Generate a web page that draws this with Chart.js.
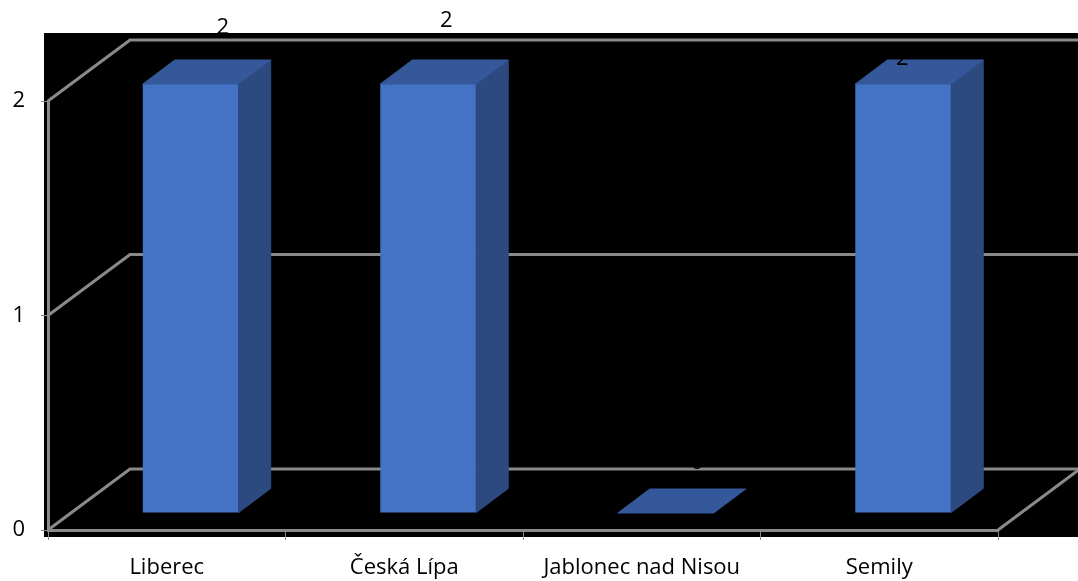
<!DOCTYPE html>
<html>
<head>
<meta charset="utf-8">
<script src="https://cdn.jsdelivr.net/npm/chart.js@4/dist/chart.umd.min.js"></script>
<style>
  html, body { margin: 0; padding: 0; background: #fff; overflow: hidden; }
  canvas { display: block; }
</style>
</head>
<body>
<canvas id="c" width="1078" height="581"></canvas>
<script>
const categories = ['Liberec', 'Česká Lípa', 'Jablonec nad Nisou', 'Semily'];
const counts = [2, 2, 0, 2];
const yTicks = [0, 1, 2];
// value label placement relative to the top of each bar, in px
const labelOffsets = [[56, -73], [42, -80], [55, -67], [23, -42]];

// 3D geometry: depth of the walls, where the bar fronts sit, and bar depth
const WALL = { dx: 82, dy: -61 };
const BAR_SHIFT = { dx: 24, dy: -17 };
const BAR_DEPTH = { dx: 32, dy: -24 };
const LINE = '#8a8a8a';
const FRONT = '#4472c4';
const TOP = '#35589a';
const SIDE = '#2c4a80';
const FONT = { family: "'Open Sans', 'DejaVu Sans', sans-serif", size: 22 };

function path(ctx, pts) {
  ctx.beginPath();
  ctx.moveTo(pts[0][0], pts[0][1]);
  for (let i = 1; i < pts.length; i++) ctx.lineTo(pts[i][0], pts[i][1]);
  ctx.closePath();
}

function polyline(ctx, pts) {
  ctx.beginPath();
  ctx.moveTo(pts[0][0], pts[0][1]);
  for (let i = 1; i < pts.length; i++) ctx.lineTo(pts[i][0], pts[i][1]);
}

const box3d = {
  id: 'box3d',
  beforeDraw(chart) {
    const { ctx, chartArea: a, scales: { y } } = chart;
    const top = y.getPixelForValue(yTicks[yTicks.length - 1]) + WALL.dy - 7;
    ctx.save();
    ctx.fillStyle = '#000';
    ctx.fillRect(a.left - 4, top, chart.width - (a.left - 4), a.bottom + 7 - top);
    ctx.restore();
  },
  beforeDatasetsDraw(chart) {
    const { ctx, chartArea: a, scales: { y } } = chart;
    ctx.save();
    ctx.strokeStyle = LINE;
    ctx.lineWidth = 3;
    ctx.lineJoin = 'miter';
    // side wall diagonals and back wall gridlines
    yTicks.forEach(v => {
      const py = y.getPixelForValue(v);
      polyline(ctx, [[a.left, py], [a.left + WALL.dx, py + WALL.dy], [a.right + WALL.dx, py + WALL.dy]]);
      ctx.stroke();
    });
    // right edge of the floor
    polyline(ctx, [[a.right, a.bottom], [a.right + WALL.dx, a.bottom + WALL.dy]]);
    ctx.stroke();
    ctx.restore();
    // bar fronts are pushed back into the box
    ctx.save();
    ctx.translate(BAR_SHIFT.dx, BAR_SHIFT.dy);
  },
  afterDatasetsDraw(chart) {
    const { ctx } = chart;
    const meta = chart.getDatasetMeta(0);
    ctx.lineWidth = 1;
    ctx.lineJoin = 'miter';
    meta.data.forEach(bar => {
      const { x, y, base, width } = bar.getProps(['x', 'y', 'base', 'width'], true);
      const l = x - width / 2, r = x + width / 2;
      const dx = BAR_DEPTH.dx, dy = BAR_DEPTH.dy;
      ctx.fillStyle = ctx.strokeStyle = SIDE;
      path(ctx, [[r, y], [r + dx, y + dy], [r + dx, base + dy], [r, base]]);
      ctx.fill();
      if (base - y > 1) ctx.stroke();
      ctx.fillStyle = ctx.strokeStyle = TOP;
      path(ctx, [[l, y], [r, y], [r + dx, y + dy], [l + dx, y + dy]]);
      ctx.fill();
      ctx.stroke();
    });
    ctx.restore();
    // value labels
    ctx.save();
    ctx.fillStyle = '#000';
    ctx.font = `${FONT.size}px ${FONT.family}`;
    ctx.textAlign = 'center';
    ctx.textBaseline = 'middle';
    meta.data.forEach((bar, i) => {
      const { x, y } = bar.getProps(['x', 'y'], true);
      ctx.fillText(String(counts[i]), x + labelOffsets[i][0], y + labelOffsets[i][1]);
    });
    ctx.restore();
  }
};

new Chart(document.getElementById('c'), {
  type: 'bar',
  data: {
    labels: categories,
    datasets: [{
      data: counts,
      backgroundColor: FRONT,
      borderWidth: 0,
      categoryPercentage: 1,
      barPercentage: 0.404
    }]
  },
  options: {
    responsive: false,
    animation: false,
    devicePixelRatio: 1,
    layout: { padding: { top: 101, right: 80, bottom: 0, left: 0 } },
    plugins: { legend: { display: false }, tooltip: { enabled: false } },
    scales: {
      x: {
        grid: { offset: true, drawOnChartArea: false, drawTicks: true, tickLength: 10, color: LINE, lineWidth: 1 },
        border: { color: LINE, width: 3 },
        ticks: { color: '#000', font: FONT, padding: 15, maxRotation: 0, autoSkip: false },
        afterFit(s) { s.height = 51; }
      },
      y: {
        min: 0,
        max: 2,
        afterBuildTicks(s) { s.ticks = yTicks.map(v => ({ value: v })); },
        grid: { drawOnChartArea: false, drawTicks: true, tickLength: 7, color: LINE, lineWidth: 1 },
        border: { color: LINE, width: 3 },
        ticks: { color: '#000', font: FONT, padding: 16 },
        afterFit(s) { s.width = 48; }
      }
    }
  },
  plugins: [box3d]
});
</script>
</body>
</html>
